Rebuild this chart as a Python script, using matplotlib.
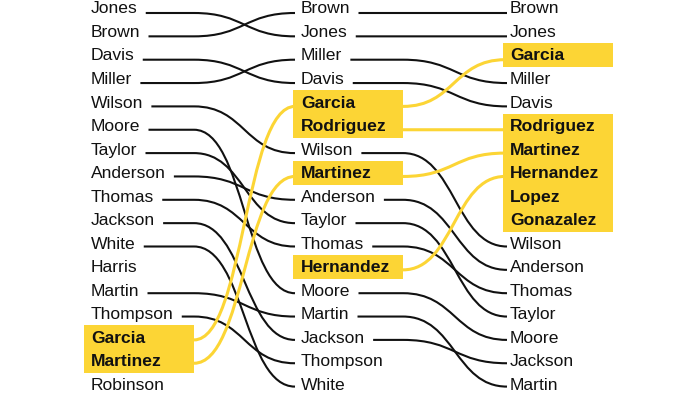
import matplotlib
matplotlib.use("Agg")
import matplotlib.pyplot as plt
from matplotlib.path import Path
from matplotlib.patches import PathPatch, Rectangle

# ---- data ----
col1 = ["Jones", "Brown", "Davis", "Miller", "Wilson", "Moore", "Taylor", "Anderson",
        "Thomas", "Jackson", "White", "Harris", "Martin", "Thompson", "Garcia",
        "Martinez", "Robinson"]
col2 = ["Brown", "Jones", "Miller", "Davis", "Garcia", "Rodriguez", "Wilson", "Martinez",
        "Anderson", "Taylor", "Thomas", "Hernandez", "Moore", "Martin", "Jackson",
        "Thompson", "White"]
col3 = ["Brown", "Jones", "Garcia", "Miller", "Davis", "Rodriguez", "Martinez",
        "Hernandez", "Lopez", "Gonazalez", "Wilson", "Anderson", "Thomas", "Taylor",
        "Moore", "Jackson", "Martin"]
highlight = ["Garcia", "Rodriguez", "Martinez", "Hernandez", "Lopez", "Gonazalez"]

# ---- layout ----
W, H = 700, 400
YELLOW = "#FCD535"
INK = "#111111"
FS = 12.6
text_x = [91, 301, 510]
box_x = [84, 293, 503]
box_w = 110
curve_end = [295, 507]


def baseline(i):
    return 13.4 + 23.54 * i


def line_y(i):
    return 13.0 + 23.35 * i


fig = plt.figure(figsize=(7, 4), dpi=100)
ax = fig.add_axes([0, 0, 1, 1])
ax.set_xlim(0, W)
ax.set_ylim(H, 0)
ax.axis("off")

cols = [col1, col2, col3]
renderer = fig.canvas.get_renderer()
text_end = [{}, {}, {}]

for c, names in enumerate(cols):
    for i, name in enumerate(names):
        hl = name in highlight
        if hl:
            ax.add_patch(Rectangle((box_x[c], baseline(i) - 17.5), box_w, 24,
                                   facecolor=YELLOW, edgecolor="none", zorder=3))
        t = ax.text(text_x[c], baseline(i), name, fontsize=FS,
                    family="Liberation Sans", fontweight="bold" if hl else "normal",
                    color=INK, va="baseline", ha="left", zorder=4)
        bb = t.get_window_extent(renderer)
        text_end[c][name] = bb.x1


def link(x_text, xa, xb, ya, yb, color, lw):
    verts = [(x_text, ya), (xa, ya), ((xa + xb) / 2, ya), ((xa + xb) / 2, yb), (xb, yb)]
    codes = [Path.MOVETO, Path.LINETO, Path.CURVE4, Path.CURVE4, Path.CURVE4]
    ax.add_patch(PathPatch(Path(verts, codes), facecolor="none", edgecolor=color,
                           lw=lw, capstyle="butt", zorder=2 if color == YELLOW else 1))


for c in range(2):
    a, b = cols[c], cols[c + 1]
    xa = box_x[c] + box_w
    for i, name in enumerate(a):
        if name not in b:
            continue
        j = b.index(name)
        if name in highlight:
            link(xa, xa, box_x[c + 1] + 2, line_y(i), line_y(j), YELLOW, 2.2)
        else:
            link(text_end[c][name] + 8, xa, curve_end[c], line_y(i), line_y(j), INK, 1.5)

fig.savefig("out.png", dpi=100)
